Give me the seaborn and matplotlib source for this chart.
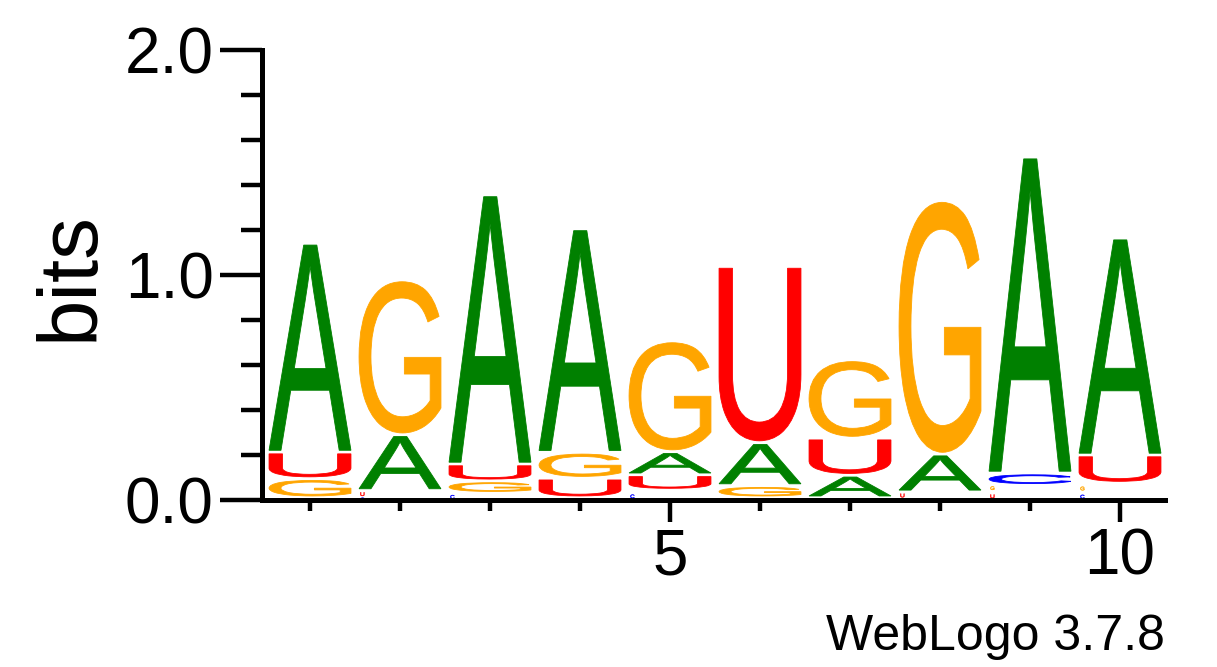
import matplotlib
matplotlib.use("Agg")
import pandas as pd
import matplotlib.pyplot as plt
import seaborn as sns
from matplotlib.textpath import TextPath
from matplotlib.patches import PathPatch
from matplotlib.font_manager import FontProperties
from matplotlib.transforms import Affine2D

# Sequence logo data: letters per position, stacked bottom -> top, height in bits
positions = [1, 2, 3, 4, 5, 6, 7, 8, 9, 10]
stack_letters = [
    ['C', 'G', 'U', 'A'],
    ['C', 'U', 'A', 'G'],
    ['C', 'G', 'U', 'A'],
    ['C', 'U', 'G', 'A'],
    ['C', 'U', 'A', 'G'],
    ['C', 'G', 'A', 'U'],
    ['C', 'A', 'U', 'G'],
    ['C', 'U', 'A', 'G'],
    ['U', 'G', 'C', 'A'],
    ['C', 'G', 'U', 'A'],
]
stack_heights = [
    [0.010, 0.085, 0.118, 0.928],
    [0.012, 0.030, 0.248, 0.688],
    [0.030, 0.055, 0.075, 1.196],
    [0.010, 0.087, 0.115, 0.993],
    [0.044, 0.068, 0.103, 0.492],
    [0.010, 0.054, 0.191, 0.783],
    [0.010, 0.100, 0.165, 0.348],
    [0.006, 0.030, 0.168, 1.127],
    [0.040, 0.025, 0.055, 1.404],
    [0.035, 0.040, 0.125, 0.964],
]
letter_colors = {'A': '#008000', 'C': '#0000FF', 'G': '#FFA500', 'U': '#FF0000'}
ytick_vals = [0, 1, 2]
ytick_labels = ['0.0', '1.0', '2.0']
xtick_major = [5, 10]

# long table of letters
rows = []
for pos, letters, heights in zip(positions, stack_letters, stack_heights):
    base = 0.0
    for letter, h in zip(letters, heights):
        rows.append({'position': pos, 'letter': letter, 'bottom': base, 'height': h})
        base += h
logo_df = pd.DataFrame(rows)

sns.set_theme(style='ticks')
plt.rcParams['font.family'] = ['Liberation Sans', 'DejaVu Sans']

fig = plt.figure(figsize=(12.17, 6.67), dpi=100)
ax = fig.add_axes([265 / 1217, 1 - 500 / 667, 900 / 1217, 450 / 667])

glyph_font = FontProperties(family='Liberation Sans', weight='normal')
col_width = 0.91
tiny_cut = 0.045  # very small letters come out as little marks at the left edge


def draw_letter(ax, letter, x, bottom, height):
    tp = TextPath((0, 0), letter, size=1, prop=glyph_font)
    bb = tp.get_extents()
    pad = min(0.008, height * 0.2)
    if height < tiny_cut:
        w = 0.045
        hh = min(height - 2 * pad, 0.016)
        x0 = x - col_width / 2 + 0.015
        lw = 0.3
    else:
        w = col_width
        hh = height - 2 * pad
        x0 = x - col_width / 2
        lw = 0.6
    tr = (Affine2D().translate(-bb.x0, -bb.y0)
          .scale(w / bb.width, hh / bb.height)
          .translate(x0, bottom + pad))
    ax.add_patch(PathPatch(tr.transform_path(tp), facecolor=letter_colors[letter],
                           edgecolor=letter_colors[letter], lw=lw))


for _, r in logo_df.iterrows():
    draw_letter(ax, r['letter'], r['position'], r['bottom'], r['height'])

ax.set_xlim(0.5, 10.5)
ax.set_ylim(0, 2)
ax.set_facecolor('white')

ax.set_yticks(ytick_vals)
ax.set_yticklabels(ytick_labels)
ax.set_yticks([0.2, 0.4, 0.6, 0.8, 1.2, 1.4, 1.6, 1.8], minor=True)
ax.set_xticks(xtick_major)
ax.set_xticklabels([str(v) for v in xtick_major])
ax.set_xticks(positions, minor=True)

sns.despine(ax=ax, offset={'left': 2, 'bottom': 0})
for side in ['left', 'bottom']:
    ax.spines[side].set_linewidth(3.6)
    ax.spines[side].set_color('black')

ax.tick_params(axis='y', which='major', length=30, width=3.2, direction='out',
               labelsize=46, pad=5, color='black', labelcolor='black')
ax.tick_params(axis='y', which='minor', length=15, width=3.2, direction='out', color='black')
ax.tick_params(axis='x', which='major', length=16, width=3.2, direction='out',
               labelsize=46, pad=4, color='black', labelcolor='black')
ax.tick_params(axis='x', which='minor', length=8, width=3.2, direction='out', color='black')

ax.set_ylabel('bits', fontsize=60, color='black')
ax.yaxis.set_label_coords(-0.216, 0.498)
ax.yaxis.label.set_verticalalignment('center')

fig.text(1165 / 1217, 1 - 650 / 667, 'WebLogo 3.7.8', fontsize=36,
         ha='right', va='baseline', color='black')

fig.savefig('out.png', dpi=100, facecolor='white')
